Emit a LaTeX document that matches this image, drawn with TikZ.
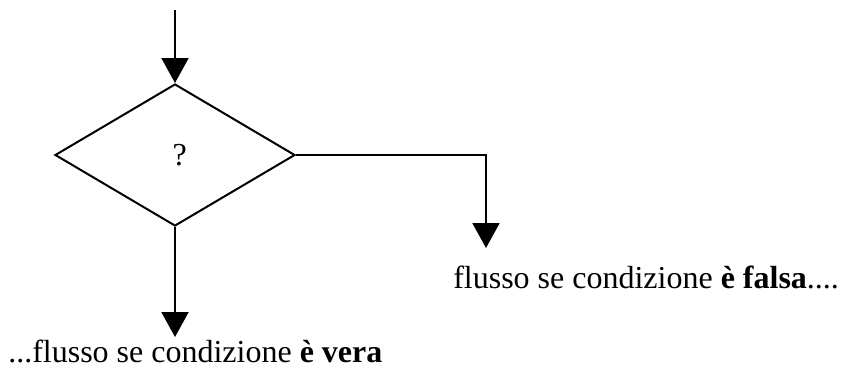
\documentclass[tikz,border=0pt]{standalone}
\usepackage{fontspec}
\setmainfont{Liberation Serif}
\usetikzlibrary{
    arrows.meta,
    shapes.geometric,
    positioning
}

\begin{document}
\begin{tikzpicture}[x=0.75pt, y=-0.75pt,
        flow/.style={line width=1.5pt, -{Triangle[length=18.75pt, width=20.25pt]}},
        cond/.style={draw, line width=1.5pt, diamond, inner sep=0pt,
            minimum width=180pt, minimum height=106.5pt, font=\fontsize{24}{29}\selectfont},
        msg/.style={inner sep=0pt, font=\fontsize{24}{29}\selectfont}]
                        \useasboundingbox (0, 0) rectangle (851, 372);

                        \node[cond] (q) at (175, 155) {\hspace{7pt}?};
                        \coordinate (in) at (175, 10);
                        \coordinate (no) at (486, 248);
                        \coordinate (yes) at (175, 337);

                        \draw[flow] (in) -- (q.north);
                        \draw[flow] (q.east) -| (no);
                        \draw[flow] (q.south) -- (yes);

                        \node[msg, anchor=base west] (falsa) at (453, 288) {flusso se condizione \textbf{è falsa}....};
                        \node[msg, anchor=base west] (vera) at (8, 362) {...flusso se condizione \textbf{è vera}};
                    \end{tikzpicture}
\end{document}
